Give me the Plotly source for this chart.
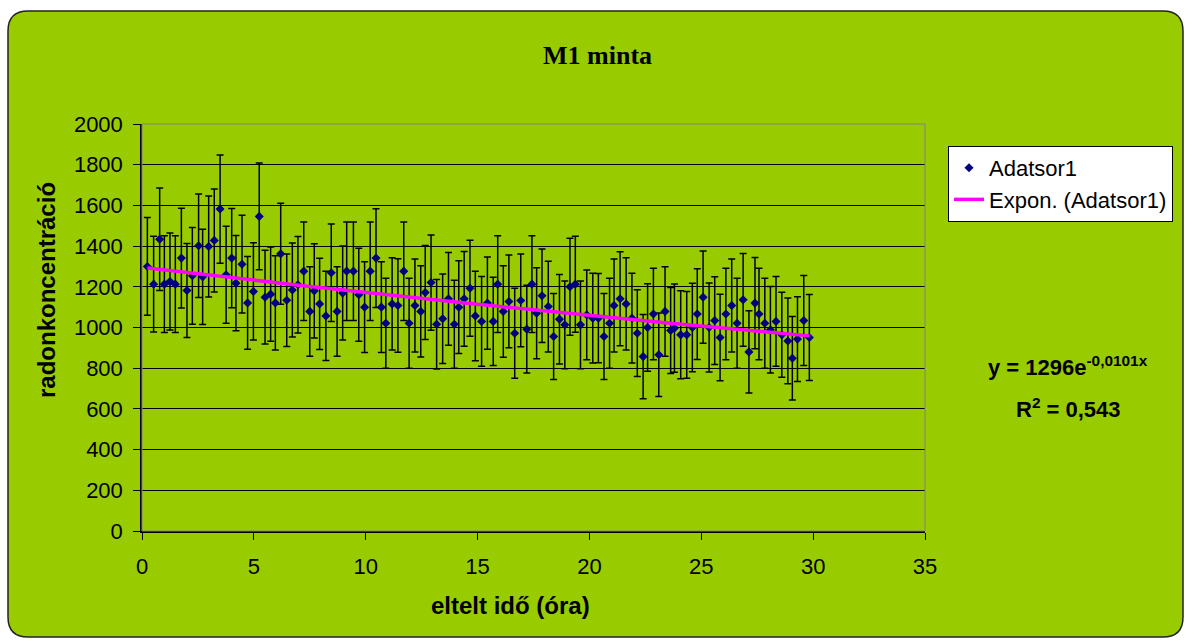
import plotly.graph_objects as go
import numpy as np

# ---- data ----
time_h = [0.24, 0.52, 0.79, 1.0, 1.25, 1.49, 1.76, 2.01, 2.25, 2.53, 2.71, 2.98, 3.23, 3.49, 3.76,
          4.01, 4.2, 4.47, 4.72, 4.98, 5.24, 5.5, 5.75, 5.96, 6.2, 6.47, 6.72, 6.97, 7.23, 7.5,
          7.7, 7.94, 8.22, 8.46, 8.72, 8.97, 9.15, 9.45, 9.69, 9.95, 10.2, 10.46, 10.7, 10.9, 11.18,
          11.44, 11.7, 11.94, 12.2, 12.46, 12.66, 12.92, 13.17, 13.44, 13.7, 13.96, 14.16, 14.4, 14.66, 14.9,
          15.18, 15.44, 15.7, 15.9, 16.15, 16.4, 16.66, 16.93, 17.2, 17.43, 17.64, 17.88, 18.16, 18.4, 18.66,
          18.9, 19.13, 19.37, 19.6, 19.88, 20.15, 20.4, 20.65, 20.9, 21.1, 21.37, 21.64, 21.9, 22.14, 22.4,
          22.6, 22.86, 23.1, 23.38, 23.63, 23.8, 24.08, 24.35, 24.6, 24.82, 25.08, 25.35, 25.6, 25.84, 26.1,
          26.36, 26.6, 26.87, 27.13, 27.4, 27.58, 27.84, 28.09, 28.34, 28.6, 28.87, 29.07, 29.3, 29.58, 29.83]

radon = [1300, 1213, 1434, 1213, 1226, 1213, 1341, 1182, 1254, 1402, 1249, 1398, 1428, 1582, 1259,
         1341, 1218, 1311, 1121, 1177, 1546, 1149, 1164, 1121, 1362, 1134, 1184, 1210, 1277, 1079,
         1180, 1116, 1057, 1269, 1079, 1169, 1277, 1277, 1161, 1100, 1277, 1341, 1100, 1021, 1116,
         1108, 1277, 1021, 1108, 1079, 1172, 1221, 1016, 1043, 1141, 1016, 1100, 1141, 1193, 1057,
         1030, 1120, 1030, 1213, 1079, 1128, 972, 1133, 992, 1213, 1070, 1156, 1103, 956, 1041,
         1013, 1200, 1213, 1013, 1062, 1046, 1046, 956, 1021, 1108, 1141, 1116, 1046, 972, 857,
         1000, 1066, 866, 1079, 985, 997, 964, 964, 1000, 1066, 1149, 1000, 1034, 951, 1066,
         1108, 1021, 1136, 880, 1120, 1066, 1021, 989, 1030, 964, 934, 849, 943, 1034, 951]

radon_err = [240, 235, 252, 238, 238, 238, 245, 231, 238, 254, 234, 248, 253, 266, 238,
             244, 234, 240, 228, 239, 262, 230, 231, 231, 248, 227, 231, 237, 242, 220,
             231, 224, 219, 240, 220, 231, 242, 242, 228, 223, 242, 243, 223, 221, 227,
             230, 242, 221, 228, 224, 231, 234, 220, 220, 228, 216, 228, 233, 236, 220,
             221, 227, 217, 238, 225, 228, 221, 228, 216, 238, 223, 230, 223, 211, 220,
             216, 238, 236, 216, 220, 221, 219, 211, 221, 228, 231, 227, 221, 213, 207,
             215, 225, 205, 220, 211, 217, 216, 213, 217, 223, 227, 219, 216, 213, 225,
             228, 221, 228, 202, 224, 225, 221, 213, 221, 209, 211, 205, 208, 221, 211]

# exponential trendline coefficients shown on the chart
trend_a = 1296
trend_b = -0.0101

x_ticks = [0, 5, 10, 15, 20, 25, 30, 35]
y_ticks = [0, 200, 400, 600, 800, 1000, 1200, 1400, 1600, 1800, 2000]

# ---- layout geometry (pixels) ----
W, H = 1190, 640
PL, PR, PT, PB = 142, 925, 124, 531
pw, ph = PR - PL, PB - PT

def px(x):
    return (x - PL) / pw

def py(y):
    return (PB - y) / ph

trend_x = np.linspace(time_h[0], time_h[-1], 200)
trend_y = trend_a * np.exp(trend_b * trend_x)

fig = go.Figure()
fig.add_trace(go.Scatter(
    x=time_h, y=radon, mode="markers", name="Adatsor1",
    marker=dict(symbol="diamond", size=7, color="#000080"),
    error_y=dict(type="data", array=radon_err, visible=True, color="black",
                 thickness=1.5, width=3.5),
))
fig.add_trace(go.Scatter(
    x=trend_x, y=trend_y, mode="lines", name="Expon. (Adatsor1)",
    line=dict(color="#FF00FF", width=3.5),
))

# rounded green chart area
x0, y0, x1, y1, r = 8, 11, 1183, 637, 20
path = (f"M {px(x0 + r)},{py(y0)} L {px(x1 - r)},{py(y0)} "
        f"Q {px(x1)},{py(y0)} {px(x1)},{py(y0 + r)} "
        f"L {px(x1)},{py(y1 - r)} Q {px(x1)},{py(y1)} {px(x1 - r)},{py(y1)} "
        f"L {px(x0 + r)},{py(y1)} Q {px(x0)},{py(y1)} {px(x0)},{py(y1 - r)} "
        f"L {px(x0)},{py(y0 + r)} Q {px(x0)},{py(y0)} {px(x0 + r)},{py(y0)} Z")

shapes = [
    dict(type="path", xref="paper", yref="paper", path=path,
         fillcolor="#99CC00", line=dict(color="#222222", width=1.5), layer="below"),
    dict(type="rect", xref="paper", yref="paper", x0=0, y0=0, x1=1, y1=1,
         line=dict(color="#808080", width=1), layer="above"),
]

def note(text, x, y, size, family=None, angle=0):
    f = dict(size=size)
    if family:
        f["family"] = family
    return dict(text=text, x=px(x), y=py(y), xref="paper", yref="paper",
                xanchor="center", yanchor="middle", showarrow=False,
                textangle=angle, font=f)

fig.update_layout(
    width=W, height=H,
    margin=dict(l=PL, r=W - PR, t=PT, b=H - PB, pad=0),
    paper_bgcolor="white",
    plot_bgcolor="#FFFF99",
    shapes=shapes,
    font=dict(family="Liberation Sans, Arial, sans-serif", color="black", size=22),
    showlegend=True,
    legend=dict(x=px(948), y=py(146), xanchor="left", yanchor="top",
                bgcolor="white", bordercolor="black", borderwidth=1,
                font=dict(size=22, family="Liberation Sans, Arial, sans-serif"),
                tracegroupgap=0, itemwidth=30),
    annotations=[
        note("<b>M1 minta</b>", 597, 55, 26, "Liberation Serif, Times New Roman, serif"),
        note("<b>radonkoncentráció</b>", 46, 290, 24, angle=-90),
        note("<b>eltelt idő (óra)</b>", 510, 605, 24),
        note(f"<b>y = {trend_a}e<sup>-0,0101x</sup></b>", 1068, 366, 22),
        note("<b>R<sup>2</sup> = 0,543</b>", 1068, 408, 22),
    ],
)

fig.update_xaxes(range=[0, 35], tickvals=x_ticks, ticks="outside", ticklen=7, tickcolor="black",
                 showline=True, linecolor="black", linewidth=1.5, showgrid=False, zeroline=False,
                 tickfont=dict(size=22), ticklabelstandoff=8)
fig.update_yaxes(range=[0, 2000], tickvals=y_ticks, ticks="outside", ticklen=7, tickcolor="black",
                 showline=True, linecolor="black", linewidth=1.5, showgrid=True, gridcolor="black",
                 gridwidth=1, zeroline=False, tickfont=dict(size=22), ticklabelstandoff=6)

fig.write_html("out.html")
